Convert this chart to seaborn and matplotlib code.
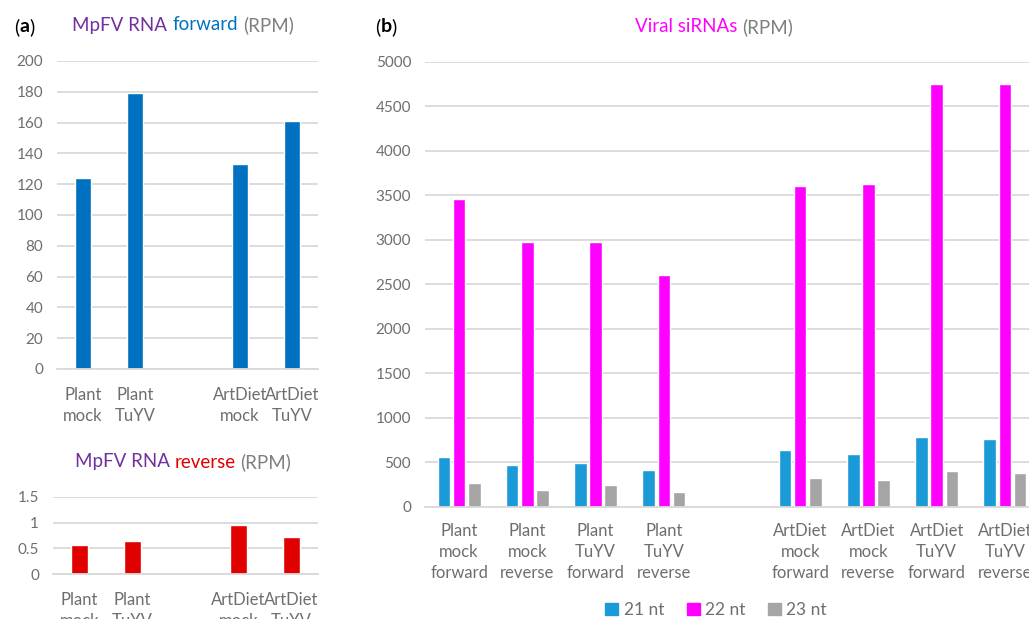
import numpy as np
import pandas as pd
import matplotlib
matplotlib.use("Agg")
import matplotlib.pyplot as plt
import seaborn as sns
from matplotlib.patches import Patch

# values (RPM)
rna_groups = ["Plant\nmock", "Plant\nTuYV", "ArtDiet\nmock", "ArtDiet\nTuYV"]
rna_forward = [124, 179, 133, 161]
rna_reverse = [0.57, 0.64, 0.96, 0.73]

sirna_groups = ["Plant\nmock\nforward", "Plant\nmock\nreverse", "Plant\nTuYV\nforward", "Plant\nTuYV\nreverse",
                "ArtDiet\nmock\nforward", "ArtDiet\nmock\nreverse", "ArtDiet\nTuYV\nforward", "ArtDiet\nTuYV\nreverse"]
nt_sizes = ["21 nt", "22 nt", "23 nt"]
nt21 = [565, 472, 491, 412, 640, 595, 790, 760]
nt22 = [3463, 2978, 2980, 2604, 3608, 3626, 4750, 4748]
nt23 = [270, 191, 243, 169, 330, 303, 404, 382]

nt_colors = {"21 nt": "#1a9ad6", "22 nt": "#ff00ff", "23 nt": "#a5a5a5"}
PURPLE, BLUE, RED, MAGENTA, GREY = "#7030a0", "#0070c0", "#e00000", "#ff00ff", "#7f7f7f"
TICK = "#6e6e6e"
GRID = "#d9d9d9"

sns.set_theme(style="white")
plt.rcParams["font.family"] = ["Lato", "DejaVu Sans"]

W, H = 1029, 619
fig = plt.figure(figsize=(W / 100, H / 100), dpi=100)

# empty slot between the Plant and ArtDiet groups
gap_label = " "
rna_order = rna_groups[:2] + [gap_label] + rna_groups[2:]
sirna_order = sirna_groups[:4] + [gap_label] + sirna_groups[4:]

fwd_df = pd.DataFrame({"group": rna_groups, "rpm": rna_forward})
rev_df = pd.DataFrame({"group": rna_groups, "rpm": rna_reverse})
sirna_df = pd.DataFrame({
    "group": sirna_groups * 3,
    "size": np.repeat(nt_sizes, len(sirna_groups)),
    "rpm": nt21 + nt22 + nt23,
})


def px_axes(x0, y0, x1, y1):
    # axes from pixel box (top-left origin)
    return fig.add_axes([x0 / W, 1 - y1 / H, (x1 - x0) / W, (y1 - y0) / H])


def style(ax, ticks, labels=None, xpad=13):
    ax.set_xlabel("")
    ax.set_ylabel("")
    for s in ["top", "right", "left"]:
        ax.spines[s].set_visible(False)
    ax.spines["bottom"].set_color(GRID)
    ax.spines["bottom"].set_linewidth(1.3)
    ax.yaxis.grid(True, color=GRID, lw=1.3)
    ax.set_axisbelow(True)
    ax.set_ylim(ticks[0], ticks[-1])
    ax.set_yticks(ticks)
    if labels is not None:
        ax.set_yticklabels(labels)
    ax.tick_params(axis="y", length=0, pad=10, labelsize=11, labelcolor=TICK)
    ax.tick_params(axis="x", length=0, pad=xpad, labelsize=12, labelcolor=TICK)
    for lab in ax.get_xticklabels():
        lab.set_linespacing(1.38)


# (a) forward
ax1 = px_axes(57, 61, 318, 369)
sns.barplot(data=fwd_df, x="group", y="rpm", order=rna_order, color=BLUE,
            saturation=1, width=0.31, errorbar=None, ax=ax1)
style(ax1, np.arange(0, 201, 20))

# (a) reverse
ax2 = px_axes(53, 497, 318, 574)
sns.barplot(data=rev_df, x="group", y="rpm", order=rna_order, color=RED,
            saturation=1, width=0.31, errorbar=None, ax=ax2)
style(ax2, [0, 0.5, 1, 1.5], ["0", "0.5", "1", "1.5"])

# (b) viral siRNAs, axes runs past the right edge like the reference crop
ax3 = px_axes(425, 61.7, 1039, 507)
sns.barplot(data=sirna_df, x="group", y="rpm", hue="size", order=sirna_order,
            hue_order=nt_sizes, palette=nt_colors, saturation=1, width=0.665, gap=0.17,
            errorbar=None, legend=False, ax=ax3)
style(ax3, np.arange(0, 5001, 500), xpad=11.5)

handles = [Patch(color=nt_colors[s], label=s) for s in nt_sizes]
fig.legend(handles=handles, loc="center", bbox_to_anchor=(716 / W, 1 - 610 / H), ncol=3,
           frameon=False, fontsize=12.5, handlelength=0.75, handleheight=0.75,
           handletextpad=0.3, columnspacing=1.3, labelcolor=TICK)


def rich_text(xc, yc, parts, size):
    # coloured pieces placed side by side, centred on (xc, yc) in pixels
    r = fig.canvas.get_renderer()
    probe1 = fig.text(0, 0, "x x", fontsize=size)
    probe2 = fig.text(0, 0, "xx", fontsize=size)
    space = probe1.get_window_extent(r).width - probe2.get_window_extent(r).width
    probe1.remove()
    probe2.remove()
    arts, widths = [], []
    for s, c, w, sp in parts:
        t = fig.text(0, 1 - yc / H, s, color=c, fontsize=size, fontweight=w, va="center", ha="left")
        arts.append(t)
        widths.append(t.get_window_extent(r).width + (space if sp else 0))
    x = xc - sum(widths) / 2
    for t, wd in zip(arts, widths):
        t.set_x(x / W)
        x += wd


rich_text(183, 25, [("MpFV RNA", PURPLE, "normal", True), ("forward", BLUE, "normal", True),
                    ("(RPM)", GREY, "normal", False)], 13.5)
rich_text(183, 462, [("MpFV RNA", PURPLE, "normal", True), ("reverse", RED, "normal", True),
                     ("(RPM)", GREY, "normal", False)], 13.5)
rich_text(714, 27, [("Viral siRNAs", MAGENTA, "normal", True), ("(RPM)", GREY, "normal", False)], 13.5)
rich_text(24, 27, [("(", "black", "normal", False), ("a", "black", "bold", False),
                   (")", "black", "normal", False)], 14)
rich_text(386, 27, [("(", "black", "normal", False), ("b", "black", "bold", False),
                    (")", "black", "normal", False)], 14)

fig.savefig("out.png", dpi=100)
